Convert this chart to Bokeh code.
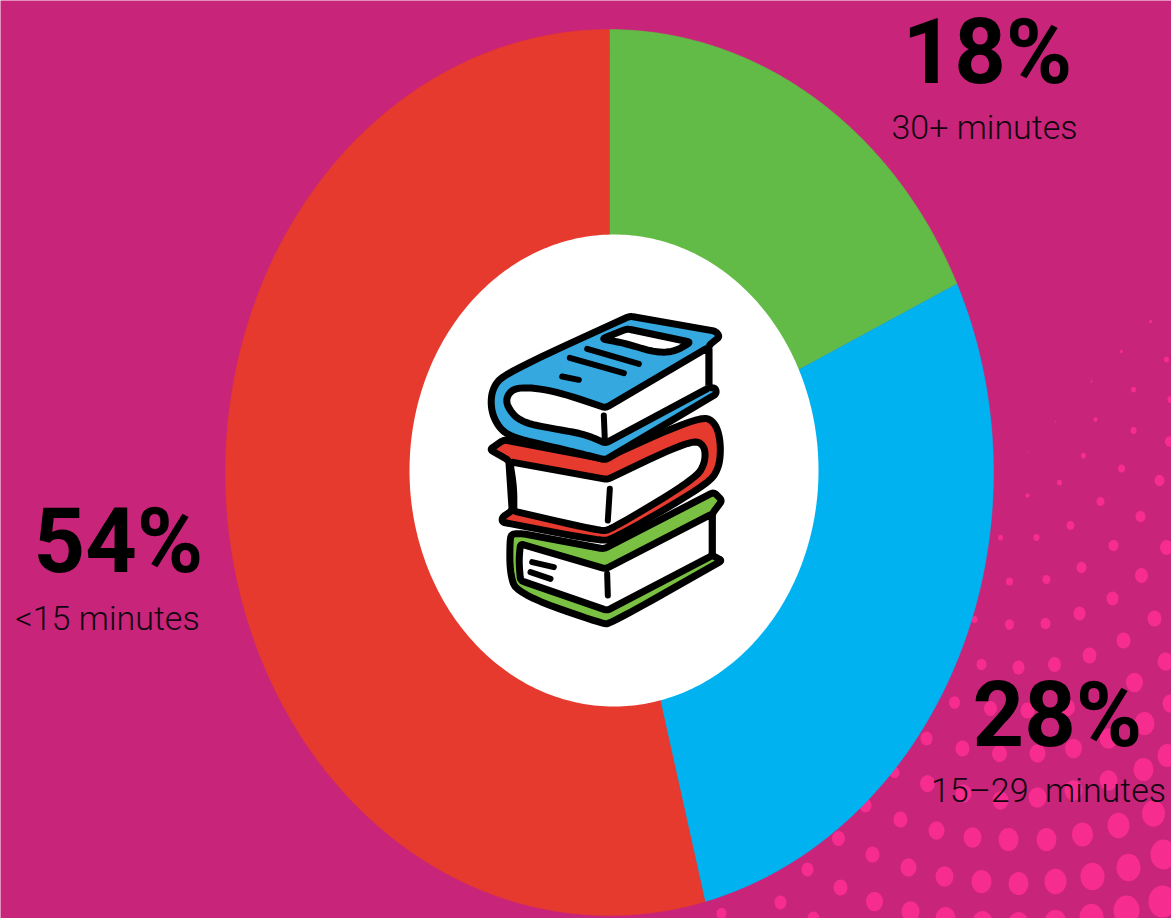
import numpy as np
from bokeh.core.properties import value
from bokeh.embed import file_html
from bokeh.models import Range1d
from bokeh.plotting import figure
from bokeh.resources import INLINE

W, H = 1171, 918

# Share of readers by daily reading time, clockwise from twelve o'clock
categories = ["30+ minutes", "15\u201329\u00a0 minutes", "<15 minutes"]
shares = [18, 28, 54]
slice_colors = ["#62BB46", "#00B3F0", "#E63A2E"]

# Label anchors
pct_x = [987, 1057, 118]
pct_y = [52, 715, 541]
cat_x = [984, 1048, 107]
cat_y = [126, 789, 617]

# Halftone decoration in the lower right corner
dot_x = [1150,1121,1166,1091,1133,1170,1055,1095,1133,1169,1028,1083,1121,1159,1059,1027,1100,1140,1070,1000,1036,1113,1166,1081,1141,1009,1046,1112,1079,1154,1045,1009,974,1123,1089,1054,1018,981,1165,1134,1067,1027,990,954,1144,1108,1073,1037,999,962,926,1143,1108,1073,1037,1000,963,927,894,1153,1118,1082,1046,1008,972,936,900,865,1163,1128,1092,1055,1018,981,944,908,872,838,1162,1126,1091,1055,1018,982,945,910,874,840,807,780,721,813,1170,1167]
dot_y = [321,351,359,381,389,399,421,419,430,441,451,455,468,480,482,495,501,516,525,537,537,545,547,567,575,581,579,598,613,618,623,624,619,640,655,664,667,664,661,682,707,710,708,702,723,738,748,753,753,748,738,769,780,790,797,800,793,783,772,813,825,834,839,839,837,830,819,805,854,867,876,881,883,881,876,867,854,838,901,910,917,922,923,922,918,911,901,887,869,902,913,918,703,755]
dot_r = [1.5,1.5,2.5,1,2.5,3,0.7,2,3,4.5,0.7,2.5,3.5,5,2.5,2,4,5,4,2.5,3,5,6.5,5,6.5,3.5,4,6,6,7,5,4.5,3,7,7,6.5,6,5,8,8.5,7.5,7,6.5,5.5,10,9,8.5,8,7.5,7,6,10,9,9,9,8,8,7.5,5,11.5,11,10.5,10,10,9,8,7,6,13,12,12,11,10,10,9,8,7,6.5,14,13,12,11,10,10,10,9,8.5,7,6,6,5,6,8,10]

# Book stack outlines on a 3x grid; a third item of 1 keeps that corner tight
green_cover = [(125,700,1),(160,700,1),(400,745,1),(730,575,1),(755,600,1),(725,640,1),(725,765,1),(755,780,1),(420,970),(395,970),(140,880),(118,820),(118,715)]
green_pages = [(150,730,1),(405,805,1),(725,640,1),(725,765,1),(410,930,1),(150,840,1),(145,780)]
red_cover = [(58,447,1),(100,418,1),(400,475,1),(690,345),(735,365),(752,430),(745,510),(700,558),(430,715),(390,722),(95,665,1),(95,650,1),(125,630,1),(115,480,1)]
red_pages = [(118,484,1),(410,537,1),(660,418),(702,432),(705,485),(675,535),(420,688),(390,692),(130,632,1),(130,560)]
blue_cover = [(478,47,1),(735,92,1),(748,108,1),(715,135,1),(715,262,1),(735,262,1),(738,280,1),(405,478,1),(340,462),(250,440),(140,415),(90,390),(60,330),(65,260),(110,215)]
blue_pages = [(715,140,1),(715,262,1),(405,428,1),(340,400),(250,385),(150,365),(110,320),(108,285),(140,258),(250,270),(405,322,1)]
blue_label = [(395,115,1),(470,85,1),(660,125,1),(610,155),(550,155),(470,130)]
book_marks = [
    [(350,145),(505,190)], [(298,172),(460,218)], [(275,228),(325,238)],
    [(400,345),(403,420)], [(418,565),(412,660)], [(410,820),(412,885)],
    [(185,785),(250,800)], [(180,815),(240,835)],
]

p = figure(width=W, height=H, x_range=Range1d(0, W), y_range=Range1d(H, 0),
           output_backend="svg", toolbar_location=None, min_border=0,
           background_fill_color="#C8247A", border_fill_color="#C8247A",
           outline_line_color=None)
p.axis.visible = False
p.grid.visible = False

p.ellipse(dot_x, dot_y, width=[2.0 * r for r in dot_r], height=[2.3 * r for r in dot_r],
          fill_color="#F62D8E", line_color=None)

# The donut is stretched vertically, so each slice is built as an elliptical polygon
cx, cy = 609, 472
rx_out, ry_out = 384, 443
edges = np.cumsum([0] + shares) / sum(shares) * 2 * np.pi
xs, ys = [], []
for a0, a1 in zip(edges[:-1], edges[1:]):
    t = np.linspace(a0, a1, 240)
    xs.append(np.r_[cx, cx + rx_out * np.sin(t)])
    ys.append(np.r_[cy, cy - ry_out * np.cos(t)])
p.patches(xs, ys, fill_color=slice_colors, line_color=slice_colors, line_width=0.5)

t = np.linspace(0, 2 * np.pi, 360)
p.patch(613.5 + 204.5 * np.sin(t), 470 - 236 * np.cos(t), fill_color="white", line_color=None)


def rounded(points):
    """Closed outline with each vertex replaced by a quadratic curve."""
    n = len(points)
    out_x, out_y = [], []
    for i in range(n):
        prev_pt = np.array(points[i - 1][:2], float)
        pt = np.array(points[i][:2], float)
        next_pt = np.array(points[(i + 1) % n][:2], float)
        tight = len(points[i]) == 3
        to_prev, to_next = prev_pt - pt, next_pt - pt
        len_prev, len_next = np.hypot(*to_prev), np.hypot(*to_next)
        d_prev = min(10, len_prev / 2) if tight else len_prev / 2
        d_next = min(10, len_next / 2) if tight else len_next / 2
        a = pt + to_prev / len_prev * d_prev
        b = pt + to_next / len_next * d_next
        for s in np.linspace(0, 1, 9):
            q = (1 - s) ** 2 * a + 2 * s * (1 - s) * pt + s ** 2 * b
            out_x.append(470 + q[0] / 3)
            out_y.append(300 + q[1] / 3)
    return out_x, out_y


def shape(points, color):
    x, y = rounded(points)
    p.patch(x, y, fill_color=color, line_color="black", line_width=7, line_join="round")


shape(green_cover, "#7AC143")
shape(green_pages, "white")
shape(red_cover, "#E63A2E")
shape(red_pages, "white")
shape(blue_cover, "#35A8E0")
shape(blue_pages, "white")
shape(blue_label, "white")
for mark in book_marks:
    p.line([470 + a / 3 for a, _ in mark], [300 + b / 3 for _, b in mark],
           line_color="black", line_width=6, line_cap="round")

p.text(pct_x, pct_y, text=[f"{v}%" for v in shares], text_font=value("Roboto"),
       text_font_size="90px", text_font_style="bold", text_color="black",
       text_align="center", text_baseline="alphabetic")
p.text(cat_x, cat_y, text=categories, text_font=value("Roboto Light"), text_font_size="34px",
       text_color="#120510", text_align="center", text_baseline="alphabetic")

open("out.html", "w").write(file_html(p, INLINE))
